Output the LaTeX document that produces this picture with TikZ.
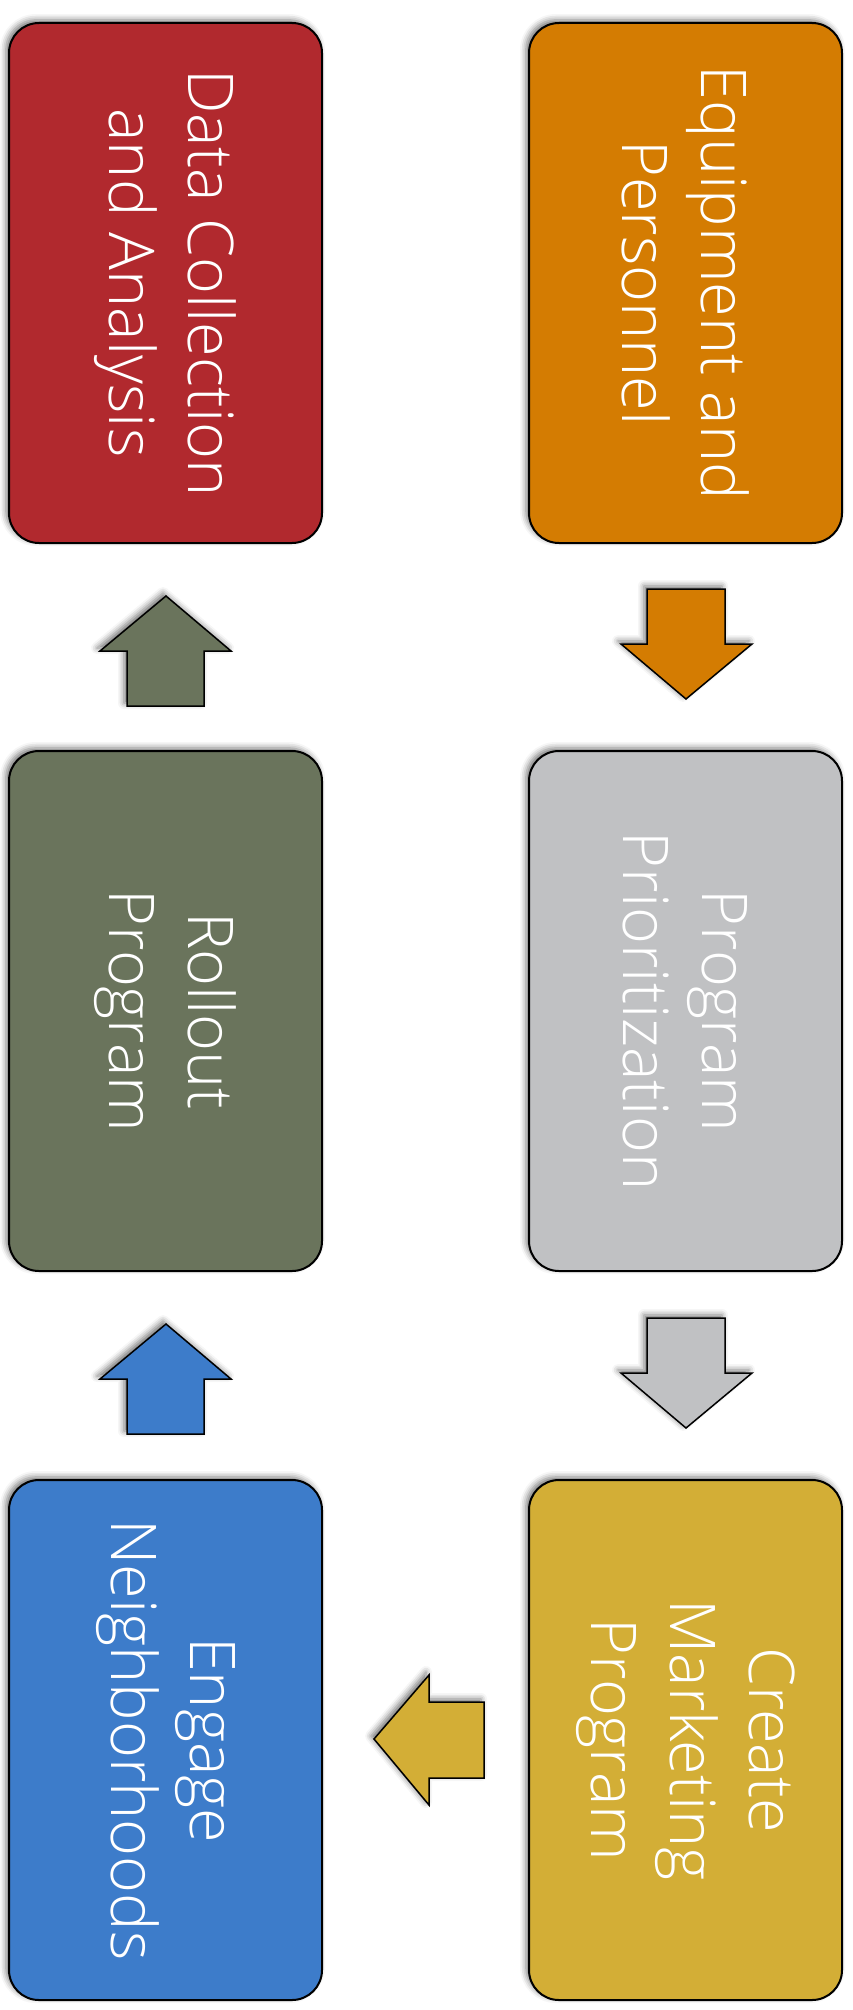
\documentclass[tikz,border=0pt]{standalone}
\usepackage{fontspec}
\setmainfont{Open Sans Light}
\usetikzlibrary{shadows.blur}
\definecolor{cred}{RGB}{177,41,46}
\definecolor{corange}{RGB}{212,124,2}
\definecolor{cgray}{RGB}{192,193,195}
\definecolor{cyellow}{RGB}{211,174,54}
\definecolor{cblue}{RGB}{61,124,202}
\definecolor{cgreen}{RGB}{106,116,92}
\tikzset{
  shd/.style={blur shadow={shadow xshift=-3pt, shadow yshift=3pt, shadow blur radius=6pt, shadow opacity=55}},
  stepbox/.style={shd, draw=black, line width=2pt, rounded corners=30pt, rectangle,
    minimum width=520pt, minimum height=313pt, rotate=-90, text=white, align=center,
    font=\fontsize{63}{79}\selectfont, inner sep=0pt},
  blockarrow/.style={shd, draw=black, line width=1.5pt, line join=miter}
}
\begin{document}
\begin{tikzpicture}[x=1pt,y=1pt]
\useasboundingbox (0,0) rectangle (852,-2010);
% boxes
\node[stepbox, fill=corange] (equip) at (685.5,-283) {Equipment and\\Personnel};
\node[stepbox, fill=cred] (data) at (165.5,-283) {Data Collection\\and Analysis};
\node[stepbox, fill=cgray] (prio) at (685.5,-1011) {Program\\Prioritization};
\node[stepbox, fill=cgreen] (roll) at (165.5,-1011) {Rollout\\Program};
\node[stepbox, fill=cyellow] (mark) at (685.5,-1740) {Create\\Marketing\\Program};
\node[stepbox, fill=cblue] (eng) at (165.5,-1740) {Engage\\Neighborhoods};
% arrows
% orange down
\draw[blockarrow, fill=corange] (647,-589) -- (725,-589) -- (725,-644) -- (752,-644) -- (686,-699) -- (621,-644) -- (647,-644) -- cycle;
% gray down
\draw[blockarrow, fill=cgray] (647,-1318) -- (725,-1318) -- (725,-1373) -- (752,-1373) -- (686,-1428) -- (621,-1373) -- (647,-1373) -- cycle;
% yellow left
\draw[blockarrow, fill=cyellow] (484,-1702) -- (484,-1778) -- (429,-1778) -- (429,-1805) -- (374,-1739) -- (429,-1675) -- (429,-1702) -- cycle;
% blue up
\draw[blockarrow, fill=cblue] (127,-1434) -- (204,-1434) -- (204,-1379) -- (231,-1379) -- (166,-1324) -- (100,-1379) -- (127,-1379) -- cycle;
% green up
\draw[blockarrow, fill=cgreen] (127,-706) -- (204,-706) -- (204,-651) -- (231,-651) -- (166,-596) -- (100,-651) -- (127,-651) -- cycle;
\end{tikzpicture}
\end{document}
